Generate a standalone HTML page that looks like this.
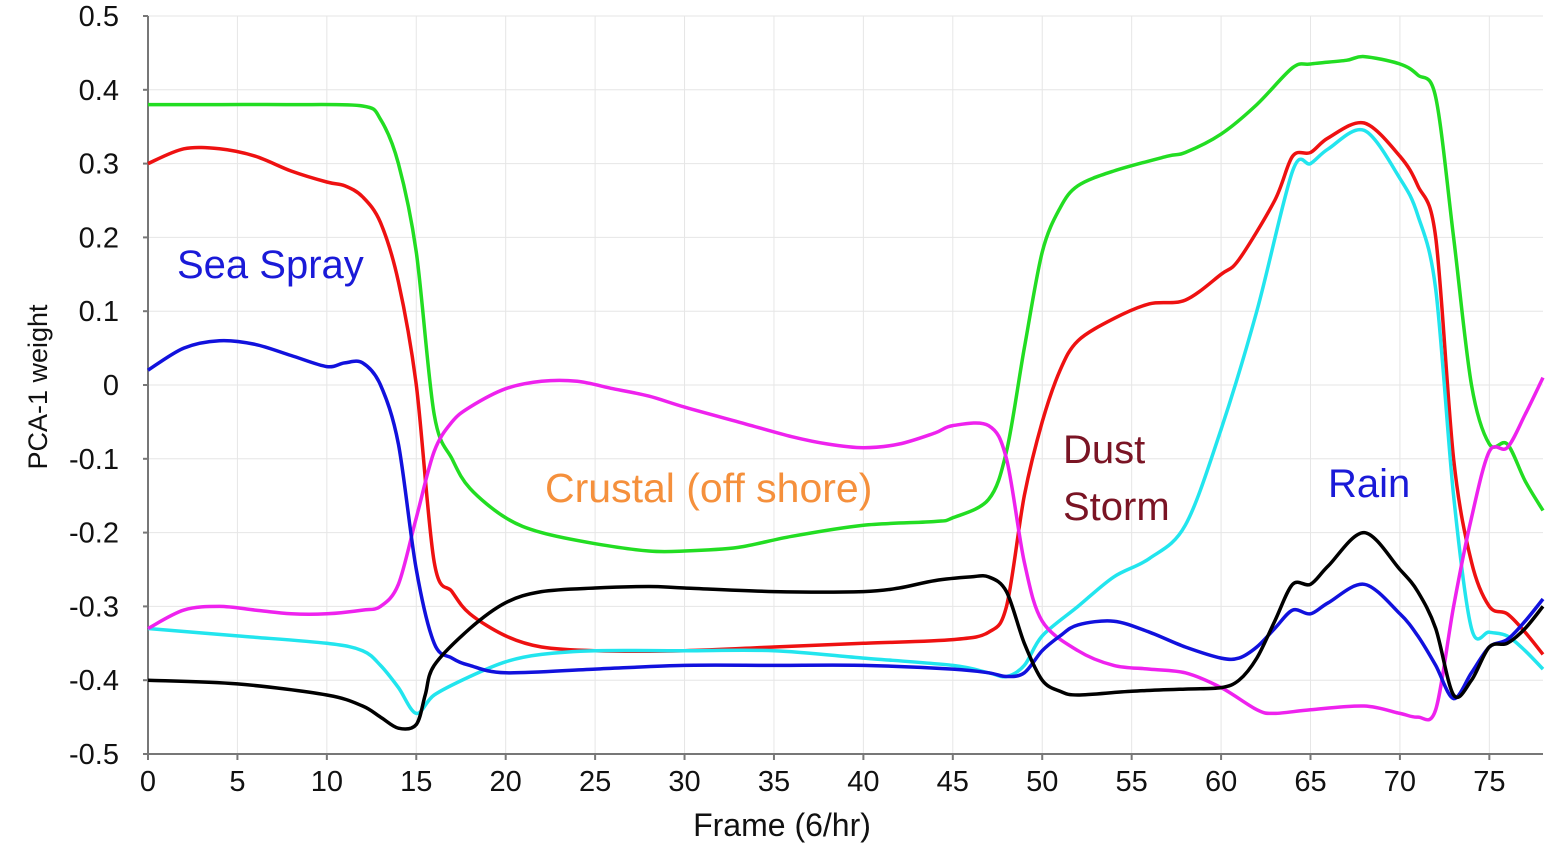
<!DOCTYPE html>
<html><head><meta charset="utf-8"><style>
body{margin:0;background:#fff;}
svg{display:block;font-family:"Liberation Sans",sans-serif;}
</style></head><body>
<svg id="chart" width="1568" height="848"></svg>
<script>
const frames = {
 green:[0,4,8,12,13,14,15,16,17,18,20,22,25,28,30,33,36,40,44,45,47,48,49,50,51,52,54,57,58,60,62,64,65,67,68,70,71,72,73,74,75,76,77,78],
 red:[0,2,4,6,8,10,11,12,13,14,15,16,17,18,20,22,25,30,35,40,45,47,48,49,50,51,52,54,56,58,60,61,63,64,65,66,68,70,71,72,73,74,75,76,77,78],
 blue:[0,2,4,6,8,10,11,12,13,14,15,16,17,18,20,25,30,35,40,45,47,48,49,50,51,52,54,56,58,60,61,62,63,64,65,66,68,70,71,72,73,74,75,76,77,78],
 cyan:[0,5,10,12,13,14,15,16,18,20,22,25,30,35,40,45,47,48,49,50,52,54,56,58,60,62,64,65,66,68,70,71,72,73,74,75,76,77,78],
 magenta:[0,2,4,6,8,10,12,13,14,15,16,17,18,20,22,24,26,28,30,33,36,38,40,42,44,45,47,48,49,50,52,54,56,58,60,62,63,65,68,70,71,72,73,74,75,76,77,78],
 black:[0,5,10,12,13,14,15,15.5,16,18,20,22,25,28,30,35,40,42,44,46,47,48,49,50,51,52,55,58,60,61,62,63,64,65,66,68,70,71,72,73,74,75,76,77,78]
};
const greenVals=[0.38,0.38,0.38,0.378,0.36,0.30,0.18,-0.04,-0.10,-0.14,-0.18,-0.20,-0.215,-0.225,-0.225,-0.22,-0.205,-0.19,-0.185,-0.18,-0.155,-0.09,0.05,0.18,0.24,0.27,0.29,0.31,0.315,0.34,0.38,0.43,0.435,0.44,0.445,0.435,0.42,0.39,0.20,0.0,-0.08,-0.08,-0.13,-0.17];
const redVals=[0.30,0.32,0.32,0.31,0.29,0.275,0.27,0.255,0.22,0.14,0.0,-0.24,-0.28,-0.31,-0.34,-0.355,-0.36,-0.36,-0.355,-0.35,-0.345,-0.335,-0.30,-0.15,-0.05,0.02,0.06,0.09,0.11,0.115,0.15,0.17,0.25,0.31,0.315,0.335,0.355,0.31,0.27,0.20,-0.10,-0.24,-0.30,-0.31,-0.335,-0.365];
const blueVals=[0.02,0.05,0.06,0.055,0.04,0.025,0.03,0.03,0.0,-0.08,-0.25,-0.35,-0.37,-0.38,-0.39,-0.385,-0.38,-0.38,-0.38,-0.385,-0.39,-0.395,-0.39,-0.36,-0.34,-0.325,-0.32,-0.335,-0.355,-0.37,-0.37,-0.355,-0.33,-0.305,-0.31,-0.295,-0.27,-0.31,-0.34,-0.38,-0.425,-0.39,-0.355,-0.345,-0.32,-0.29];
const cyanVals=[-0.33,-0.34,-0.35,-0.36,-0.38,-0.41,-0.445,-0.42,-0.395,-0.375,-0.365,-0.36,-0.36,-0.36,-0.37,-0.38,-0.39,-0.395,-0.38,-0.34,-0.30,-0.26,-0.235,-0.19,-0.06,0.10,0.29,0.30,0.32,0.345,0.28,0.23,0.13,-0.15,-0.33,-0.335,-0.34,-0.36,-0.385];
const magentaVals=[-0.33,-0.305,-0.30,-0.305,-0.31,-0.31,-0.305,-0.30,-0.27,-0.18,-0.09,-0.05,-0.03,-0.005,0.005,0.005,-0.005,-0.015,-0.03,-0.05,-0.07,-0.08,-0.085,-0.08,-0.065,-0.055,-0.055,-0.10,-0.24,-0.32,-0.36,-0.38,-0.385,-0.39,-0.41,-0.44,-0.445,-0.44,-0.435,-0.445,-0.45,-0.44,-0.30,-0.18,-0.09,-0.085,-0.04,0.01];
const blackVals=[-0.40,-0.405,-0.42,-0.435,-0.45,-0.465,-0.46,-0.42,-0.38,-0.33,-0.295,-0.28,-0.275,-0.273,-0.275,-0.28,-0.28,-0.275,-0.265,-0.26,-0.26,-0.28,-0.35,-0.40,-0.415,-0.42,-0.415,-0.412,-0.41,-0.40,-0.37,-0.32,-0.27,-0.27,-0.245,-0.20,-0.25,-0.28,-0.33,-0.42,-0.40,-0.355,-0.35,-0.33,-0.30];
const xTicks=[0,5,10,15,20,25,30,35,40,45,50,55,60,65,70,75];
const yTicks=[0.5,0.4,0.3,0.2,0.1,0,-0.1,-0.2,-0.3,-0.4,-0.5];
const yTickLabels=["0.5","0.4","0.3","0.2","0.1","0","-0.1","-0.2","-0.3","-0.4","-0.5"];

const svg=document.getElementById('chart');
const NS='http://www.w3.org/2000/svg';
const X0=148,XMAX=78,XR=1543;
const xs=v=>X0+v*(XR-X0)/XMAX;
const ys=v=>385-v*738;
function mk(t,a,p){const e=document.createElementNS(NS,t);for(const k in a)e.setAttribute(k,a[k]);(p||svg).appendChild(e);return e;}

xTicks.forEach(t=>{
 const g=mk('line',{x1:xs(t),x2:xs(t),y1:16,y2:754,stroke:'#e6e6e6','stroke-width':1});
 
 
 const tl=mk('text',{x:xs(t),y:791,'text-anchor':'middle','font-size':29,fill:'#111'});
 tl.textContent=t;
 
 
 mk('line',{x1:xs(t),x2:xs(t),y1:754,y2:760,stroke:'#777','stroke-width':2});
});
yTicks.forEach((t,i)=>{
 const g=mk('line',{x1:X0,x2:XR,y1:ys(t),y2:ys(t),stroke:'#e6e6e6','stroke-width':1});
 
 
 const tl=mk('text',{x:119,y:ys(t)+10,'text-anchor':'end','font-size':29,fill:'#111'});
 tl.textContent=yTickLabels[i];
 
 
 mk('line',{x1:X0-5,x2:X0,y1:ys(t),y2:ys(t),stroke:'#777','stroke-width':2});
});
const ax=mk('path',{d:`M${X0},16 V754 H${XR}`,fill:'none',stroke:'#777','stroke-width':2});



function smoothPath(P){
 let d=`M${P[0][0].toFixed(1)},${P[0][1].toFixed(1)}`;
 for(let i=0;i<P.length-1;i++){
  const p0=P[i-1]||P[i],p1=P[i],p2=P[i+1],p3=P[i+2]||P[i+1];
  const t=0.16;
  const c1=[p1[0]+(p2[0]-p0[0])*t,p1[1]+(p2[1]-p0[1])*t];
  const c2=[p2[0]-(p3[0]-p1[0])*t,p2[1]-(p3[1]-p1[1])*t];
  d+=` C${c1[0].toFixed(1)},${c1[1].toFixed(1)} ${c2[0].toFixed(1)},${c2[1].toFixed(1)} ${p2[0].toFixed(1)},${p2[1].toFixed(1)}`;
 }
 return d;
}
const series=[['green',greenVals,'#22dd22'],['red',redVals,'#ee1111'],['cyan',cyanVals,'#22e5ee'],['magenta',magentaVals,'#ee22ee'],['blue',blueVals,'#1111dd'],['black',blackVals,'#000']];
series.forEach(([n,vals,c])=>{
 const P=frames[n].map((f,i)=>[xs(f),ys(vals[i])]);
 const pl=mk('path',{d:smoothPath(P),fill:'none',stroke:c,'stroke-width':3.5,'stroke-linejoin':'round'});
 
 
});

function lab(txt,x,y,c,name,size,anchor){const t=mk('text',{x:x,y:y,'font-size':size||40,fill:c,'text-anchor':anchor||'start'});t.textContent=txt;
 
 
 return t;}
lab('Sea Spray',177,278,'#1a1ad8','sea-spray-label');
lab('Crustal (off shore)',545,502,'#f5903c','crustal-label',41);
lab('Dust',1063,463,'#7a1424','dust-storm-label');
lab('Storm',1063,520,'#7a1424','dust-storm-label-2');
lab('Rain',1328,497,'#1a1ad8','rain-label');
lab('Frame (6/hr)',782,836,'#111','x-axis-title',32,'middle');
const yt=mk('text',{x:0,y:0,'font-size':27,fill:'#111','text-anchor':'middle',transform:'translate(47,387) rotate(-90)'});
yt.textContent='PCA-1 weight';


</script>
</body></html>
